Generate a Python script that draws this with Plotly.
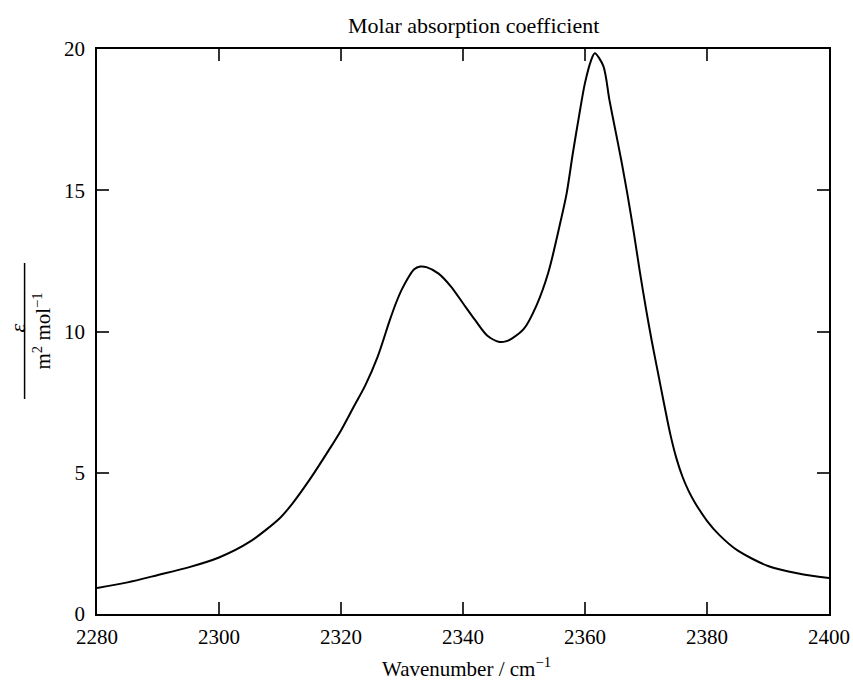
import plotly.graph_objects as go

wavenumber = [2280, 2285, 2290, 2295, 2300, 2305, 2310, 2312, 2315, 2318, 2320, 2322,
              2324, 2326, 2328, 2329, 2330, 2332, 2333, 2334, 2336, 2338, 2340, 2342, 2344,
              2346, 2347, 2348, 2350, 2352, 2354, 2356, 2357, 2358, 2359, 2360, 2361,
              2361.6, 2363, 2364, 2365, 2366, 2367, 2368, 2369, 2370, 2371, 2372, 2373,
              2374, 2375, 2376, 2377, 2378, 2380, 2382, 2385, 2390, 2395, 2400]
epsilon = [0.92, 1.12, 1.38, 1.65, 2.0, 2.55, 3.4, 3.9, 4.8, 5.8, 6.5, 7.3,
           8.1, 9.1, 10.4, 11.0, 11.5, 12.2, 12.3, 12.28, 12.05, 11.6, 11.0, 10.4, 9.85,
           9.63, 9.65, 9.75, 10.1, 10.9, 12.1, 13.9, 14.9, 16.3, 17.6, 18.8, 19.6,
           19.85, 19.4, 18.2, 17.1, 16.0, 14.8, 13.5, 12.1, 10.8, 9.6, 8.5, 7.4,
           6.35, 5.5, 4.85, 4.35, 3.95, 3.3, 2.8, 2.25, 1.7, 1.43, 1.27]

x_ticks = [2280, 2300, 2320, 2340, 2360, 2380, 2400]
y_ticks = [0, 5, 10, 15, 20]

FONT = "Liberation Serif"
W, H = 853, 682
L, R, T, B = 96.5, 23.7, 49, 68

fig = go.Figure()
fig.add_trace(go.Scatter(x=wavenumber, y=epsilon, mode="lines",
                         line=dict(color="black", width=2, shape="spline", smoothing=0.8),
                         showlegend=False, hoverinfo="skip"))

axis_common = dict(showline=True, linecolor="black", linewidth=1.5, mirror="ticks",
                   ticks="inside", ticklen=12, tickwidth=1.5, tickcolor="#333",
                   showgrid=False, zeroline=False, automargin=False,
                   tickfont=dict(family=FONT, size=21, color="black"))

fig.update_xaxes(range=[2280, 2400], tickvals=x_ticks, ticktext=[str(v) for v in x_ticks],
                 ticklabelstandoff=3, **axis_common)
fig.update_yaxes(range=[0, 20], tickvals=y_ticks, ticktext=[str(v) for v in y_ticks],
                 ticklabelstandoff=6, **axis_common)

ph = H - T - B
pw = W - L - R
def py(page_y):
    return 1 - (page_y - T) / ph
def px(page_x):
    return (page_x - L) / pw

annotations = [
    dict(text="Molar absorption coefficient", x=px(473), y=py(25), xref="paper", yref="paper",
         showarrow=False, font=dict(family=FONT, size=22, color="black"),
         xanchor="center", yanchor="middle"),
    dict(text="Wavenumber / cm<sup>−1</sup>", x=px(466), y=py(667), xref="paper", yref="paper",
         showarrow=False, font=dict(family=FONT, size=21, color="black"),
         xanchor="center", yanchor="middle"),
    dict(text="<i>ε</i>", x=px(17), y=py(328), xref="paper", yref="paper", textangle=-90,
         showarrow=False, font=dict(family=FONT, size=22, color="black"),
         xanchor="center", yanchor="middle"),
    dict(text="m<sup>2</sup> mol<sup>−1</sup>", x=px(41), y=py(331), xref="paper", yref="paper",
         textangle=-90, showarrow=False, font=dict(family=FONT, size=21, color="black"),
         xanchor="center", yanchor="middle"),
]

shapes = [dict(type="line", xref="paper", yref="paper", x0=px(24), x1=px(24),
               y0=py(263), y1=py(399), line=dict(color="black", width=1.5))]

fig.update_layout(width=W, height=H, margin=dict(l=L, r=R, t=T, b=B, pad=0, autoexpand=False),
                  plot_bgcolor="white", paper_bgcolor="white",
                  annotations=annotations, shapes=shapes,
                  font=dict(family=FONT, size=21, color="black"))

fig.write_html("out.html", config={"displayModeBar": False},
               post_script="document.body.style.margin='0';document.body.style.overflow='hidden';")
